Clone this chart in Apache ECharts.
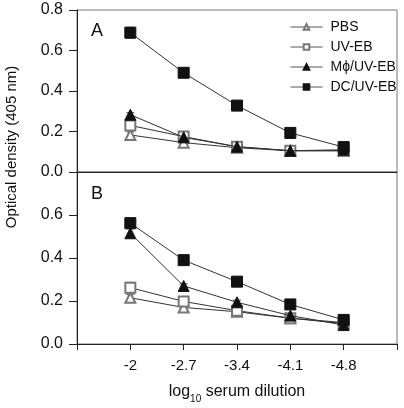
<!DOCTYPE html>
<html><head><meta charset="utf-8">
<script src="https://cdn.jsdelivr.net/npm/echarts@6/dist/echarts.min.js"></script>
<style>html,body{margin:0;padding:0;background:#fff}#c{width:404px;height:408px}</style>
</head><body><div id="c"></div>
<script>
const categories = ['-2', '-2.7', '-3.4', '-4.1', '-4.8'];
const seriesNames = ['PBS', 'UV-EB', 'Mϕ/UV-EB', 'DC/UV-EB'];
const yTicks = [0, 0.2, 0.4, 0.6, 0.8];
// Panel A
const A_PBS = [0.183, 0.145, 0.12, 0.105, 0.105];
const A_UVEB = [0.23, 0.175, 0.125, 0.105, 0.105];
const A_MPHI = [0.283, 0.171, 0.125, 0.105, 0.11];
const A_DC = [0.688, 0.49, 0.328, 0.193, 0.123];
const A_PBS_err = [0.015, 0.01, 0.005, 0.005, 0.005];
const A_UVEB_err = [0.025, 0.015, 0.008, 0.005, 0.005];
const A_MPHI_err = [0.01, 0.01, 0.005, 0.005, 0.005];
const A_DC_err = [0.027, 0.008, 0.008, 0.008, 0.005];
// Panel B
const B_PBS = [0.215, 0.17, 0.15, 0.12, 0.095];
const B_UVEB = [0.262, 0.198, 0.155, 0.12, 0.1];
const B_MPHI = [0.515, 0.27, 0.194, 0.132, 0.088];
const B_DC = [0.562, 0.39, 0.29, 0.184, 0.112];
const B_PBS_err = [0.015, 0.012, 0.008, 0.005, 0.005];
const B_UVEB_err = [0.025, 0.02, 0.012, 0.008, 0.005];
const B_MPHI_err = [0.02, 0.01, 0.01, 0.008, 0.005];
const B_DC_err = [0.012, 0.008, 0.008, 0.008, 0.005];

const xCats = [''].concat(categories, ['']);
const pad = a => [null].concat(a, [null]);
const FONT = 'Liberation Sans, Arial, sans-serif';
const symbols = ['emptyTriangle', 'emptyRect', 'triangle', 'rect'];
const symColors = ['#777', '#777', '#111', '#111'];
const symSizes = [10, 10, 11, 11];

function lineSeries(i, vals, gi) {
  return {
    type: 'line', name: seriesNames[i], xAxisIndex: gi, yAxisIndex: gi,
    data: pad(vals), symbol: symbols[i], symbolSize: symSizes[i],
    itemStyle: { color: symColors[i], borderColor: symColors[i], borderWidth: 1 },
    lineStyle: { color: '#333', width: 1 }, z: 3 + i, animation: false
  };
}
function errSeries(vals, errs, gi) {
  return {
    type: 'custom', xAxisIndex: gi, yAxisIndex: gi, silent: true, z: 2, animation: false,
    data: vals.map((v, k) => [k + 1, v, errs[k]]),
    renderItem: function (params, api) {
      const x = api.value(0), v = api.value(1), e = api.value(2);
      const hi = api.coord([x, v + e]), lo = api.coord([x, v - e]);
      const w = 4;
      const st = { stroke: '#555', lineWidth: 1 };
      return { type: 'group', children: [
        { type: 'line', shape: { x1: hi[0], y1: hi[1], x2: lo[0], y2: lo[1] }, style: st },
        { type: 'line', shape: { x1: hi[0] - w, y1: hi[1], x2: hi[0] + w, y2: hi[1] }, style: st },
        { type: 'line', shape: { x1: lo[0] - w, y1: lo[1], x2: lo[0] + w, y2: lo[1] }, style: st }
      ]};
    }
  };
}

const chart = echarts.init(document.getElementById('c'), null, { renderer: 'canvas' });
const yAxisBase = (gi) => ({
  type: 'value', gridIndex: gi, min: yTicks[0], max: yTicks[yTicks.length - 1], interval: 0.2,
  splitLine: { show: false },
  axisLine: { show: true, lineStyle: { color: '#222', width: 1 } },
  axisTick: { show: true, length: 8, lineStyle: { color: '#222' } },
  axisLabel: { color: '#111', fontSize: 16, fontFamily: FONT, margin: 14,
    formatter: v => v.toFixed(1), showMaxLabel: gi === 0 }
});
chart.setOption({
  backgroundColor: '#fff',
  animation: false,
  grid: [
    { left: 77, right: 7, top: 10, height: 162, show: true, borderColor: '#777', borderWidth: 1 },
    { left: 77, right: 7, top: 172, height: 172, show: true, borderColor: '#777', borderWidth: 1 }
  ],
  xAxis: [
    { type: 'category', gridIndex: 0, data: xCats, boundaryGap: false,
      axisLine: { lineStyle: { color: '#222' } }, axisTick: { show: false }, axisLabel: { show: false } },
    { type: 'category', gridIndex: 1, data: xCats, boundaryGap: false,
      axisLine: { lineStyle: { color: '#222' } },
      axisTick: { show: true, length: 6, lineStyle: { color: '#222' } },
      axisLabel: { color: '#111', fontSize: 15, fontFamily: FONT, margin: 14, showMinLabel: true, showMaxLabel: true, interval: 0 },
      name: '{a|log}{b|10}{a| serum dilution}', nameLocation: 'middle', nameGap: 38,
      nameTextStyle: { rich: {
        a: { fontSize: 16, fontFamily: FONT, color: '#111', verticalAlign: 'bottom', lineHeight: 18 },
        b: { fontSize: 10, fontFamily: FONT, color: '#111', verticalAlign: 'bottom', lineHeight: 12, padding: [0, 0, -4, 0] }
      } } }
  ],
  yAxis: [yAxisBase(0), yAxisBase(1)],
  legend: {
    data: seriesNames, orient: 'vertical', left: 285, top: 15, itemWidth: 32, itemHeight: 7, itemGap: 6,
    lineStyle: { width: 1, color: '#555' },
    textStyle: { fontSize: 14, fontFamily: FONT, color: '#111', lineHeight: 14, padding: [0, 0, 0, 3] }
  },
  graphic: [
    { type: 'text', x: 91, y: 22, style: { text: 'A', font: '18px ' + FONT, fill: '#111' } },
    { type: 'text', x: 91, y: 185, style: { text: 'B', font: '18px ' + FONT, fill: '#111' } },
    { type: 'text', x: 4, y: 147, rotation: Math.PI / 2,
      style: { text: 'Optical density (405 nm)', font: '15px ' + FONT, fill: '#111', align: 'center', verticalAlign: 'top' } }
  ],
  series: [
    errSeries(A_PBS, A_PBS_err, 0), errSeries(A_UVEB, A_UVEB_err, 0),
    errSeries(A_MPHI, A_MPHI_err, 0), errSeries(A_DC, A_DC_err, 0),
    errSeries(B_PBS, B_PBS_err, 1), errSeries(B_UVEB, B_UVEB_err, 1),
    errSeries(B_MPHI, B_MPHI_err, 1), errSeries(B_DC, B_DC_err, 1),
    lineSeries(0, A_PBS, 0), lineSeries(1, A_UVEB, 0), lineSeries(2, A_MPHI, 0), lineSeries(3, A_DC, 0),
    lineSeries(0, B_PBS, 1), lineSeries(1, B_UVEB, 1), lineSeries(2, B_MPHI, 1), lineSeries(3, B_DC, 1)
  ]
});
</script></body></html>
